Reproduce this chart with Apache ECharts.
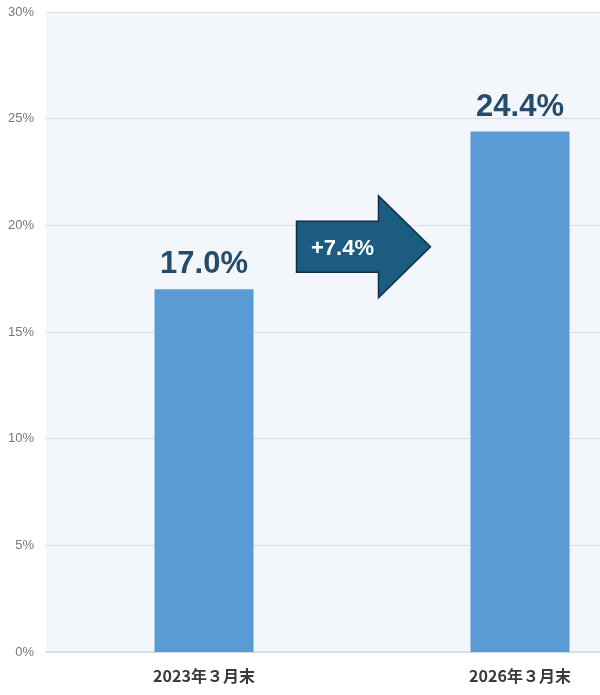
<!DOCTYPE html>
<html>
<head>
<meta charset="utf-8">
<script src="https://cdn.jsdelivr.net/npm/echarts@6/dist/echarts.min.js"></script>
<style>
html,body{margin:0;padding:0;background:#fff;}
#main{width:600px;height:695px;}
</style>
</head>
<body>
<div id="main"></div>
<script>
const categories = ['2023年３月末', '2026年３月末'];
const values = [17.0, 24.4];
const yTicks = [0, 5, 10, 15, 20, 25, 30];
const arrowLevel = 19; // vertical position (value) of the change arrow

const chart = echarts.init(document.getElementById('main'), null, {renderer: 'canvas'});
const option = {
  animation: false,
  backgroundColor: '#ffffff',
  grid: {
    left: 46, top: 12, bottom: 43, width: 632,
    show: true, backgroundColor: '#f3f7fc', borderWidth: 0,
    containLabel: false, outerBoundsMode: 'none'
  },
  xAxis: {
    type: 'category',
    data: categories,
    axisLine: {show: true, lineStyle: {color: '#d6d9dd', width: 1.5}},
    axisTick: {show: false},
    axisLabel: {
      margin: 16, color: '#3a3a3a', fontSize: 16, fontWeight: 'bold',
      fontFamily: '"Noto Sans CJK JP", "Liberation Sans", sans-serif'
    }
  },
  yAxis: {
    type: 'value',
    min: yTicks[0], max: yTicks[yTicks.length - 1], interval: 5,
    axisLine: {show: false},
    axisTick: {show: false},
    splitLine: {lineStyle: {color: '#d8e0e8', width: 1}},
    axisLabel: {
      formatter: v => v + '%', color: '#777777', fontSize: 13,
      margin: 12, fontFamily: '"Liberation Sans", Arial, sans-serif'
    }
  },
  series: [{
    type: 'bar',
    data: values,
    barWidth: 99,
    itemStyle: {color: '#5b9bd5'},
    label: {
      show: true, position: 'top', distance: 9,
      formatter: p => p.value.toFixed(1) + '%',
      color: '#264b6b', fontSize: 31, fontWeight: 'bold',
      fontFamily: '"Liberation Sans", Arial, sans-serif'
    }
  }]
};
chart.setOption(option);

function drawArrow() {
  const p0 = chart.convertToPixel({xAxisIndex: 0, yAxisIndex: 0}, [0, arrowLevel]);
  const p1 = chart.convertToPixel({xAxisIndex: 0, yAxisIndex: 0}, [1, arrowLevel]);
  const cx = (p0[0] + p1[0]) / 2 + 1.5;
  const cy = p0[1];
  const L = cx - 67, R = cx + 67, hb = cx + 15;
  const pts = [
    [L, cy - 25.5], [hb, cy - 25.5], [hb, cy - 51], [R, cy],
    [hb, cy + 51], [hb, cy + 25.5], [L, cy + 25.5]
  ];
  const diff = (values[1] - values[0]).toFixed(1);
  chart.setOption({
    graphic: [
      {
        type: 'polygon', shape: {points: pts},
        style: {fill: '#1c5b82', stroke: '#0f2f47', lineWidth: 1.5}, z: 10
      },
      {
        type: 'text', x: cx - 21, y: cy + 2,
        style: {
          text: '+' + diff + '%', fill: '#ffffff',
          font: 'bold 22px "Liberation Sans", Arial, sans-serif',
          align: 'center', verticalAlign: 'middle'
        }, z: 11
      }
    ]
  });
}
drawArrow();
</script>
</body>
</html>
